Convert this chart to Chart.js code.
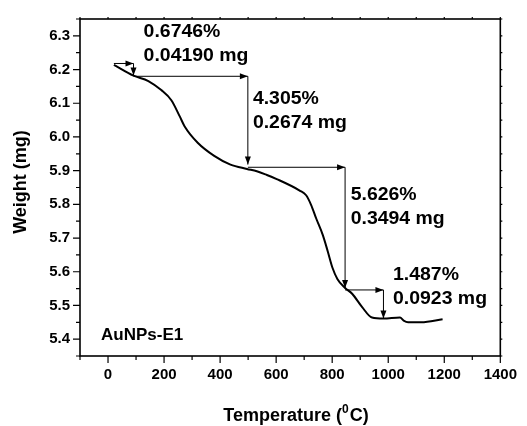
<!DOCTYPE html>
<html>
<head>
<meta charset="utf-8">
<script src="https://cdn.jsdelivr.net/npm/chart.js@4/dist/chart.umd.min.js"></script>
<style>
  html, body { margin: 0; padding: 0; background: #fff; }
  #wrap { width: 527px; height: 426px; }
</style>
</head>
<body>
<div id="wrap"><canvas id="tga" width="527" height="426"></canvas></div>
<script>
// TGA curve
const tempC = [21, 91, 144, 190, 226, 256, 273, 320, 379, 437, 496, 531, 567, 602, 684, 707, 725, 743, 766, 784, 801, 819, 846, 872, 907, 942, 983, 1042, 1055, 1071, 1118, 1194];
const weightMg = [6.214, 6.182, 6.166, 6.139, 6.109, 6.061, 6.032, 5.983, 5.944, 5.918, 5.905, 5.898, 5.887, 5.875, 5.841, 5.827, 5.798, 5.758, 5.71, 5.661, 5.612, 5.578, 5.552, 5.534, 5.495, 5.464, 5.461, 5.464, 5.455, 5.45, 5.45, 5.459];

const xTicks = [0, 200, 400, 600, 800, 1000, 1200, 1400];
const yTicks = [5.4, 5.5, 5.6, 5.7, 5.8, 5.9, 6.0, 6.1, 6.2, 6.3];

// weight-loss steps: horizontal arrow then vertical arrow (data units)
const stepStartX = [21, 91, 499, 846];
const stepEndX = [91, 499, 846, 983];
const stepTopY = [6.218, 6.180, 5.910, 5.546];
const stepBottomY = [6.182, 5.918, 5.552, 5.461];

const pctLabels = ['0.6746%', '4.305%', '5.626%', '1.487%'];
const massLabels = ['0.04190 mg', '0.2674 mg', '0.3494 mg', '0.0923 mg'];
const labelX = [127, 517, 866, 1017];
const labelY = [6.31, 6.112, 5.828, 5.59];

const FONT = "Arial, 'Liberation Sans', sans-serif";

function arrow(ctx, x0, y0, x1, y1) {
  ctx.beginPath();
  ctx.moveTo(x0, y0);
  ctx.lineTo(x1, y1);
  ctx.stroke();
  const a = Math.atan2(y1 - y0, x1 - x0);
  const len = 8, w = 3;
  ctx.beginPath();
  ctx.moveTo(x1, y1);
  ctx.lineTo(x1 - len * Math.cos(a) + w * Math.sin(a), y1 - len * Math.sin(a) - w * Math.cos(a));
  ctx.lineTo(x1 - len * Math.cos(a) - w * Math.sin(a), y1 - len * Math.sin(a) + w * Math.cos(a));
  ctx.closePath();
  ctx.fill();
}

const decor = {
  id: 'decor',
  afterDraw(chart) {
    const ctx = chart.ctx;
    const xs = chart.scales.x, ys = chart.scales.y;
    const a = chart.chartArea;
    ctx.save();
    ctx.strokeStyle = '#000';
    ctx.fillStyle = '#000';

    // tick marks
    ctx.lineWidth = 1.2;
    ctx.beginPath();
    for (let v = -100; v <= 1400; v += 100) {
      const px = xs.getPixelForValue(v);
      const len = v % 200 === 0 ? 7 : 4;
      ctx.moveTo(px, a.bottom); ctx.lineTo(px, a.bottom + len);
      ctx.moveTo(px, a.top); ctx.lineTo(px, a.top - 2);
    }
    for (let i = 0; i <= 20; i++) {
      const v = 5.35 + i * 0.05;
      const py = ys.getPixelForValue(v);
      const len = i % 2 === 1 ? 7 : 4;
      ctx.moveTo(a.left, py); ctx.lineTo(a.left - len, py);
      ctx.moveTo(a.right, py); ctx.lineTo(a.right + 2, py);
    }
    ctx.stroke();

    // frame
    ctx.lineWidth = 1.6;
    ctx.strokeRect(a.left, a.top, a.right - a.left, a.bottom - a.top);

    // step arrows
    ctx.lineWidth = 1;
    for (let i = 0; i < stepStartX.length; i++) {
      const x0 = xs.getPixelForValue(stepStartX[i]);
      const x1 = xs.getPixelForValue(stepEndX[i]);
      const yt = ys.getPixelForValue(stepTopY[i]);
      const yb = ys.getPixelForValue(stepBottomY[i]);
      arrow(ctx, x0, yt, x1, yt);
      arrow(ctx, x1, yt, x1, yb);
    }

    // loss labels, a bit wider like the original
    ctx.font = 'bold 18px ' + FONT;
    ctx.textAlign = 'left';
    ctx.textBaseline = 'middle';
    for (let i = 0; i < pctLabels.length; i++) {
      const px = xs.getPixelForValue(labelX[i]);
      const py = ys.getPixelForValue(labelY[i]);
      ctx.save();
      ctx.translate(px, py);
      ctx.scale(1.08, 1);
      ctx.fillText(pctLabels[i], 0, 0);
      ctx.fillText(massLabels[i], 0, 24);
      ctx.restore();
    }

    // sample name
    ctx.font = 'bold 17px ' + FONT;
    ctx.fillText('AuNPs-E1', 101, 335);

    // y title
    ctx.save();
    ctx.translate(21, 182);
    ctx.rotate(-Math.PI / 2);
    ctx.textAlign = 'center';
    ctx.font = 'bold 18px ' + FONT;
    ctx.fillText('Weight (mg)', 0, 0);
    ctx.restore();

    // x title with superscript
    ctx.textBaseline = 'alphabetic';
    ctx.font = 'bold 18px ' + FONT;
    const p1 = 'Temperature (', p3 = 'C)';
    const w1 = ctx.measureText(p1).width, w3 = ctx.measureText(p3).width;
    ctx.font = 'bold 12px ' + FONT;
    const w2 = ctx.measureText('0').width + 1;
    let x = 296 - (w1 + w2 + w3) / 2;
    const base = 421;
    ctx.font = 'bold 18px ' + FONT;
    ctx.fillText(p1, x, base);
    ctx.font = 'bold 12px ' + FONT;
    ctx.fillText('0', x + w1, base - 8);
    ctx.font = 'bold 18px ' + FONT;
    ctx.fillText(p3, x + w1 + w2, base);
    ctx.restore();
  }
};

new Chart(document.getElementById('tga'), {
  type: 'line',
  data: {
    datasets: [{
      data: tempC.map((t, i) => ({ x: t, y: weightMg[i] })),
      borderColor: '#000',
      borderWidth: 2,
      pointRadius: 0,
      tension: 0.4,
      cubicInterpolationMode: 'monotone',
      fill: false
    }]
  },
  options: {
    responsive: false,
    animation: false,
    layout: { padding: { top: 14, right: 20, left: 0, bottom: 0 } },
    plugins: { legend: { display: false }, tooltip: { enabled: false } },
    scales: {
      x: {
        type: 'linear',
        min: -100,
        max: 1400,
        afterFit: s => { s.height = 70; },
        afterBuildTicks: s => { s.ticks = xTicks.map(v => ({ value: v })); },
        grid: { display: false, drawTicks: false },
        border: { display: false },
        ticks: {
          padding: 10,
          autoSkip: false,
          maxRotation: 0,
          color: '#000',
          font: { family: FONT, size: 15, weight: 'bold' },
          callback: v => String(v)
        }
      },
      y: {
        min: 5.35,
        max: 6.35,
        afterFit: s => { s.width = 80; },
        afterBuildTicks: s => { s.ticks = yTicks.map(v => ({ value: v })); },
        grid: { display: false, drawTicks: false },
        border: { display: false },
        ticks: {
          padding: 10,
          color: '#000',
          font: { family: FONT, size: 15, weight: 'bold' },
          callback: v => v.toFixed(1)
        }
      }
    }
  },
  plugins: [decor]
});
</script>
</body>
</html>
